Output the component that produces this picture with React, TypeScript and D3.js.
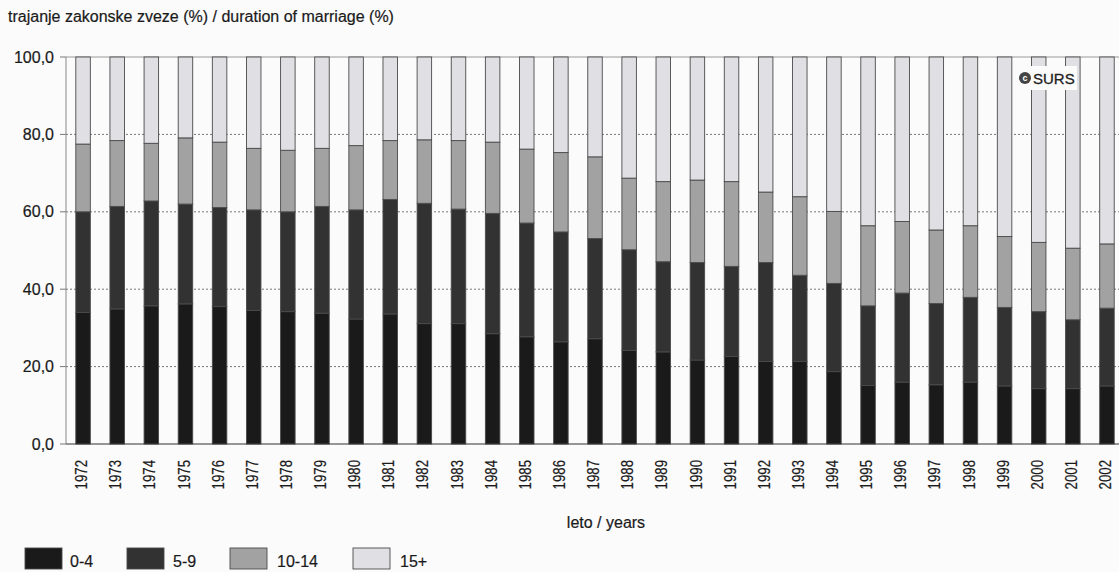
import React from "react";
import * as d3 from "d3";

const years = [
  "1972","1973","1974","1975","1976","1977","1978","1979","1980","1981",
  "1982","1983","1984","1985","1986","1987","1988","1989","1990","1991",
  "1992","1993","1994","1995","1996","1997","1998","1999","2000","2001","2002",
];
const seriesNames = ["0-4", "5-9", "10-14", "15+"];
const d0_4 = [34.0,34.9,35.7,36.2,35.5,34.5,34.2,33.8,32.3,33.6,31.1,31.1,28.5,27.7,26.4,27.2,24.2,23.8,21.7,22.6,21.3,21.3,18.7,15.1,16.0,15.3,16.0,15.0,14.3,14.3,15.0];
const d5_9 = [26.0,26.5,27.1,25.8,25.6,26.0,25.8,27.6,28.2,29.6,31.1,29.6,31.1,29.4,28.4,25.9,26.0,23.3,25.2,23.3,25.6,22.3,22.8,20.6,23.0,21.0,21.9,20.3,19.9,17.8,20.1];
const d10_14 = [17.5,17.0,14.9,17.1,16.9,15.9,15.9,15.0,16.6,15.2,16.4,17.7,18.4,19.1,20.5,21.1,18.5,20.7,21.3,21.9,18.2,20.3,18.6,20.7,18.5,19.0,18.5,18.3,17.9,18.5,16.6];
const d15p = [22.5,21.6,22.3,20.9,22.0,23.6,24.1,23.6,22.9,21.6,21.4,21.6,22.0,23.8,24.7,25.8,31.3,32.2,31.8,32.2,34.9,36.1,39.9,43.6,42.5,44.7,43.6,46.4,47.9,49.4,48.3];
const yTicks = [0, 20, 40, 60, 80, 100];
const colors = ["#1a1a1a", "#323232", "#a2a2a2", "#e0dfe3"];

const FONT = "'Liberation Sans', Arial, sans-serif";

export default function App() {
  const W = 1119, H = 572;
  const rows = years.map((y, i) => ({
    year: y,
    "0-4": d0_4[i],
    "5-9": d5_9[i],
    "10-14": d10_14[i],
    "15+": d15p[i],
  }));
  const stack = d3.stack<any>().keys(seriesNames)(rows);
  const x0 = 66;
  const step = 34.13;
  const x = d3.scaleBand<string>()
    .domain(years)
    .range([x0, x0 + step * years.length])
    .paddingInner(0.575)
    .paddingOuter(0.2875);
  const y = d3.scaleLinear().domain([0, 100]).range([444, 57]);
  const bw = x.bandwidth();

  return (
    <svg width={W} height={H} style={{ position: "absolute", left: 0, top: 0, background: "#fbfbfb" }} fontFamily={FONT}>
      <rect x={0} y={0} width={W} height={H} fill="#fbfbfb" />
      <text x={8} y={22} fontSize={16} fill="#1a1a1a" stroke="#1a1a1a" strokeWidth={0.2}>trajanje zakonske zveze (%) / duration of marriage (%)</text>
      {yTicks.filter(t => t > 0 && t < 100).map(t => (
        <line key={t} x1={x0} x2={W} y1={y(t)} y2={y(t)} stroke="#777" strokeWidth={1} strokeDasharray="2,2" />
      ))}
      <line x1={x0} x2={W} y1={y(100)} y2={y(100)} stroke="#999" strokeWidth={1} />
      {yTicks.map(t => (
        <text key={"l" + t} x={54} y={y(t)} fontSize={16} textAnchor="end" dominantBaseline="central" fill="#1a1a1a" stroke="#1a1a1a" strokeWidth={0.2}>
          {t.toFixed(1).replace(".", ",")}
        </text>
      ))}
      {yTicks.map(t => (
        <line key={"tk" + t} x1={60} x2={x0} y1={y(t)} y2={y(t)} stroke="#777" />
      ))}
      {stack.map((s, si) => (
        <g key={s.key}>
          {s.map((d, i) => (
            <rect key={i} x={x(years[i])} width={bw} y={y(d[1])} height={y(d[0]) - y(d[1])}
              fill={colors[si]} stroke="#4a4a4a" strokeWidth={0.9} />
          ))}
        </g>
      ))}
      <line x1={x0} x2={x0} y1={y(100)} y2={y(0)} stroke="#888" />
      <line x1={x0} x2={W} y1={y(0)} y2={y(0)} stroke="#333" strokeWidth={1.2} />
      {years.map(yr => {
        const cx = (x(yr) as number) + bw / 2 - 2;
        return (
          <text key={yr} transform={`translate(${cx},460) rotate(-90) scale(0.78,1)`} fontSize={17}
            textAnchor="end" dominantBaseline="central" fill="#1a1a1a" stroke="#1a1a1a" strokeWidth={0.2}>{yr}</text>
        );
      })}
      <text x={606} y={528} fontSize={16} textAnchor="middle" fill="#1a1a1a" stroke="#1a1a1a" strokeWidth={0.2}>leto / years</text>
      <rect x={1013} y={66} width={64} height={24} fill="#fbfbfb" />
      <circle cx={1025} cy={78} r={6} fill="#444" />
      <text x={1025} y={78} fontSize={9} textAnchor="middle" dominantBaseline="central" fill="#fff" fontWeight="bold">c</text>
      <text x={1033} y={84} fontSize={15} fill="#222" stroke="#222" strokeWidth={0.3}>SURS</text>
      {[{ x: 25, l: 70 }, { x: 127, l: 173 }, { x: 230, l: 277 }, { x: 353, l: 400 }].map((p, i) => (
        <g key={i}>
          <rect x={p.x} y={548} width={37} height={21} fill={colors[i]} stroke="#4a4a4a" strokeWidth={0.9} />
          <text x={p.l} y={567} fontSize={16} fill="#1a1a1a" stroke="#1a1a1a" strokeWidth={0.2}>{seriesNames[i]}</text>
        </g>
      ))}
    </svg>
  );
}
